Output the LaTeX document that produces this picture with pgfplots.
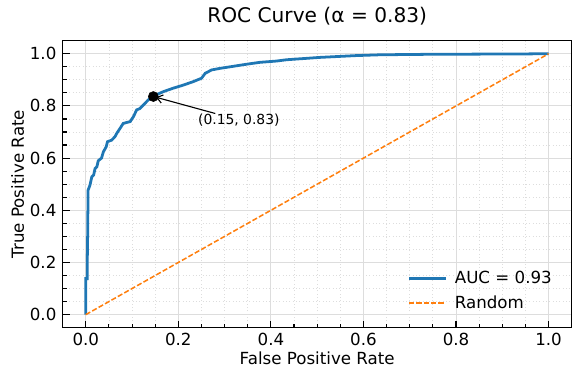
\documentclass[border=0pt]{standalone}
\usepackage{fontspec}
\setmainfont{DejaVu Sans}
\usepackage{pgfplots}
\pgfplotsset{compat=1.18}
\usetikzlibrary{arrows.meta}
\definecolor{tabblue}{HTML}{1F77B4}
\definecolor{taborange}{HTML}{FF7F0E}
\definecolor{gridgray}{HTML}{DDDDDD}

\begin{document}
\begin{tikzpicture}
\begin{axis}[
  at={(0,0)}, anchor=south west,
  scale only axis, width=366.5pt, height=206.6pt,
  xmin=-0.05, xmax=1.05, ymin=-0.05, ymax=1.05,
  xtick={0,0.2,0.4,0.6,0.8,1.0}, ytick={0,0.2,0.4,0.6,0.8,1.0},
  xticklabels={0.0,0.2,0.4,0.6,0.8,1.0},
  yticklabels={0.0,0.2,0.4,0.6,0.8,1.0},
  minor tick num=3,
  tick align=inside, tick pos=left,
  major tick length=5pt, minor tick length=3pt,
  every tick/.style={black, line width=0.8pt},
  grid=both,
  major grid style={gridgray, line width=0.7pt},
  minor grid style={gridgray, dotted, line width=0.6pt},
  axis line style={line width=1pt},
  tick label style={font=\fontsize{12}{14}\selectfont, inner sep=0pt},
  xticklabel style={anchor=base, yshift=-12.5pt},
  yticklabel style={anchor=east, xshift=-4.3pt},
  title={ROC Curve (α = 0.83)},
  title style={at={(axis description cs:0.5,1.034)}, anchor=base, inner sep=0pt, font=\fontsize{14.5}{17}\selectfont},
  xlabel={False Positive Rate},
  xlabel style={at={(axis description cs:0.5,-0.130)}, anchor=base, inner sep=0pt, font=\fontsize{12}{14}\selectfont},
  ylabel={True Positive Rate},
  ylabel style={at={(axis description cs:-0.0761,0.5)}, anchor=base, inner sep=0pt, font=\fontsize{12}{14}\selectfont},
  legend style={draw=none, fill=none, at={(axis description cs:0.975,0.04)}, anchor=south east,
    font=\fontsize{12}{14}\selectfont, row sep=3pt},
  legend cell align=left,
  legend image code/.code={\draw[#1] (0pt,0pt) -- (26.4pt,0pt); \path (30pt,0pt);},
]
% optimal point (drawn below the curve)
\addplot[forget plot, only marks, mark=*, mark size=3.6pt, black] coordinates {(0.146,0.836)};

\addplot[tabblue, line width=2pt] coordinates {
(0,0)(0,0.138)(0.003,0.138)(0.003,0.177)(0.004,0.30)(0.005,0.477)
(0.009,0.496)(0.013,0.528)(0.017,0.535)(0.020,0.560)(0.024,0.567)
(0.027,0.590)(0.034,0.600)(0.038,0.624)(0.044,0.643)(0.047,0.663)
(0.056,0.669)(0.063,0.682)(0.067,0.695)(0.074,0.714)(0.081,0.733)
(0.096,0.740)(0.103,0.759)(0.110,0.785)(0.117,0.790)(0.128,0.810)
(0.135,0.823)(0.146,0.838)(0.168,0.855)(0.189,0.868)(0.211,0.880)
(0.232,0.893)(0.250,0.906)(0.258,0.925)(0.272,0.938)(0.290,0.944)
(0.312,0.950)(0.348,0.960)(0.376,0.967)(0.412,0.972)(0.434,0.977)
(0.506,0.986)(0.585,0.993)(0.636,0.996)(0.750,0.998)(0.923,0.999)(1,1)
};
\addlegendentry{AUC = 0.93}

\addplot[taborange, line width=1.1pt, dash pattern=on 3.7pt off 1.6pt] coordinates {(0,0) (1,1)};
\addlegendentry{Random}

\node[anchor=base west, inner sep=0pt, font=\fontsize{10}{12}\selectfont,
  xshift=32pt, yshift=-20pt] (lab) at (axis cs:0.146,0.836) {(0.15, 0.83)};
\draw[-{Straight Barb[length=4pt,width=6pt]}, line width=0.8pt, shorten >=2pt]
  (lab) -- (axis cs:0.146,0.836);
\end{axis}
\pgfresetboundingbox
\useasboundingbox (-45.1pt,-37.7pt) rectangle (373.9pt,235.9pt);
\end{tikzpicture}
\end{document}
